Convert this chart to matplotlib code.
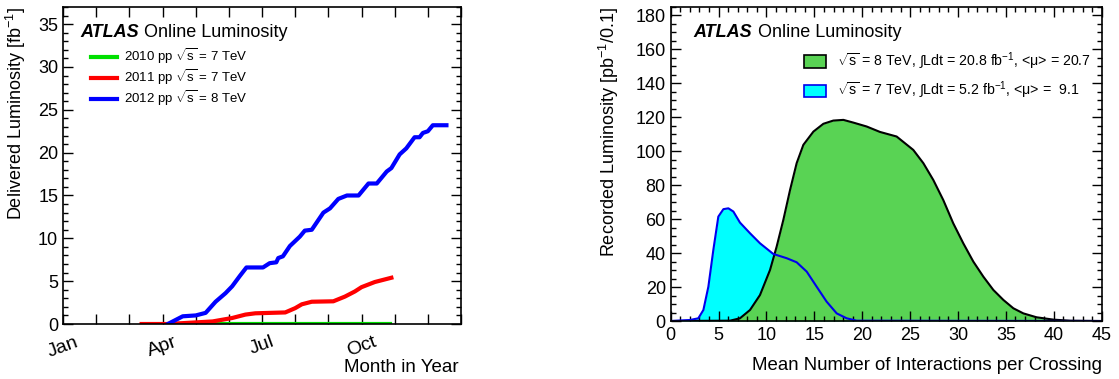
import matplotlib
matplotlib.use("Agg")
import matplotlib.pyplot as plt
from matplotlib.ticker import MultipleLocator, FixedLocator
from matplotlib.patches import Patch

plt.rcParams['font.family'] = ['Liberation Sans', 'DejaVu Sans']
plt.rcParams['mathtext.fontset'] = 'custom'
plt.rcParams['mathtext.rm'] = 'Liberation Sans'
plt.rcParams['mathtext.it'] = 'Liberation Sans:italic'

# ---- left panel: delivered luminosity vs month (months since Jan 1) ----
month_names = ["Jan", "Apr", "Jul", "Oct"]
month_pos = [0, 3, 6, 9]

m2010 = [3.53, 9.87]
l2010 = [0.04, 0.04]

m2011 = [2.37, 3.12, 3.61, 4.51, 5.1, 5.5, 5.8, 6.7, 7.0, 7.2, 7.5, 8.15,
         8.5, 8.8, 9.0, 9.4, 9.9]
l2011 = [0.0, 0.0, 0.1, 0.3, 0.7, 1.1, 1.25, 1.35, 1.85, 2.3, 2.6, 2.65,
         3.2, 3.8, 4.3, 4.9, 5.4]

m2012 = [3.16, 3.41, 3.61, 4.0, 4.3, 4.6, 4.9, 5.1, 5.33, 5.53, 6.03, 6.23,
         6.43, 6.49, 6.63, 6.84, 7.14, 7.29, 7.5, 7.85, 8.05, 8.3, 8.56,
         8.91, 9.06, 9.21, 9.46, 9.76, 9.9, 10.15, 10.35, 10.6, 10.75,
         10.85, 11.0, 11.15, 11.56]
l2012 = [0.0, 0.5, 0.9, 1.0, 1.3, 2.6, 3.6, 4.4, 5.6, 6.6, 6.6, 7.1,
         7.2, 7.7, 7.9, 9.1, 10.2, 10.9, 11.0, 13.0, 13.5, 14.6, 15.0,
         15.0, 15.7, 16.4, 16.4, 17.8, 18.2, 19.8, 20.5, 21.8, 21.8,
         22.3, 22.5, 23.2, 23.2]

# ---- right panel: recorded luminosity vs pile-up ----
mu8 = [0, 6.19, 7.23, 8.28, 9.32, 10.37, 11.06, 11.76, 12.46, 13.15, 13.85,
       14.9, 15.94, 16.98, 18.03, 19.07, 20.46, 21.85, 23.59, 25.33, 26.38,
       27.42, 28.46, 29.5, 30.55, 31.6, 32.65, 33.69, 34.74, 35.78, 36.82,
       38.2, 39.98, 41.7, 45]
lum8 = [0, 0.2, 1.6, 6.5, 15.3, 30.1, 43.8, 59.6, 77.2, 93, 103.8,
        111.6, 116.2, 118.1, 118.5, 116.9, 114.6, 111.4, 108.7, 100.8, 93,
        83.1, 71.3, 57.6, 45.8, 35, 26.1, 18.3, 12.4, 7.5, 4.5,
        2.2, 0.8, 0.2, 0]

mu7 = [0, 2.01, 2.88, 3.41, 3.93, 4.45, 4.97, 5.5, 6.02, 6.54, 7.23, 8.28,
       9.32, 10.71, 12.11, 13.15, 14.2, 15.24, 16.28, 17.33, 18.37, 19.41, 45]
lum7 = [0, 0.6, 1.6, 6.5, 20.2, 41.9, 61.5, 65.9, 66.4, 64.5, 58, 51.7,
        45.8, 39.5, 37, 34.6, 29.1, 20.2, 11.4, 4.5, 1.6, 0.2, 0]

legend8 = r"$\sqrt{\mathrm{s}}$ = 8 TeV, $\int$Ldt = 20.8 fb$^{-1}$, <μ> = 20.7"
legend7 = r"$\sqrt{\mathrm{s}}$ = 7 TeV, $\int$Ldt = 5.2 fb$^{-1}$, <μ> =  9.1"

fig = plt.figure(figsize=(11.19, 3.79), dpi=100)
ax1 = fig.add_axes([0.0563, 0.1451, 0.3557, 0.8364])
ax2 = fig.add_axes([0.5994, 0.153, 0.3851, 0.8285])


def root_style(ax):
    ax.tick_params(which='both', direction='in', top=True, right=True,
                   labelsize=13, width=1)
    ax.tick_params(which='major', length=7)
    ax.tick_params(which='minor', length=3.5)
    for s in ax.spines.values():
        s.set_linewidth(1.2)


# left
ax1.plot(m2010, l2010, color='#00e000', lw=3, label=r"2010 pp $\sqrt{\mathrm{s}}$ = 7 TeV")
ax1.plot(m2011, l2011, color='#ff0000', lw=3, label=r"2011 pp $\sqrt{\mathrm{s}}$ = 7 TeV")
ax1.plot(m2012, l2012, color='#0000ff', lw=3, label=r"2012 pp $\sqrt{\mathrm{s}}$ = 8 TeV")
ax1.set_xlim(0, 12)
ax1.set_ylim(0, 37)
root_style(ax1)
ax1.xaxis.set_major_locator(FixedLocator(month_pos))
ax1.set_xticklabels(month_names, rotation=20, fontsize=14)
ax1.xaxis.set_minor_locator(MultipleLocator(1))
ax1.tick_params(axis='x', which='both', length=7, pad=7)
ax1.yaxis.set_major_locator(MultipleLocator(5))
ax1.yaxis.set_minor_locator(MultipleLocator(1))
ax1.set_ylabel(r"Delivered Luminosity [fb$^{-1}$]", fontsize=13, loc='top')
ax1.yaxis.set_label_coords(-0.088, 1.0)
ax1.set_xlabel("Month in Year", fontsize=13.5, loc='right')
ax1.xaxis.set_label_coords(0.995, -0.11)
ax1.text(0.043, 0.92, "ATLAS", transform=ax1.transAxes, fontsize=13,
         fontweight='bold', style='italic', va='center')
ax1.text(0.204, 0.92, "Online Luminosity", transform=ax1.transAxes,
         fontsize=13, va='center')
ax1.legend(loc='upper left', bbox_to_anchor=(0.07, 0.875), frameon=False,
           fontsize=9.5, handlelength=2.0, handletextpad=0.5,
           labelspacing=0.08, borderpad=0, borderaxespad=0)

# right
ax2.fill_between(mu7, lum7, color='#00ffff', lw=0)
ax2.fill_between(mu8, lum8, color='#59d354', lw=0)
ax2.plot(mu8, lum8, color='black', lw=1.5)
ax2.plot(mu7, lum7, color='#0000ee', lw=1.5)
ax2.set_xlim(0, 45)
ax2.set_ylim(0, 185)
root_style(ax2)
ax2.xaxis.set_major_locator(MultipleLocator(5))
ax2.xaxis.set_minor_locator(MultipleLocator(1))
ax2.yaxis.set_major_locator(MultipleLocator(20))
ax2.yaxis.set_minor_locator(MultipleLocator(5))
ax2.tick_params(axis='x', pad=4)
ax2.set_ylabel(r"Recorded Luminosity [pb$^{-1}$/0.1]", fontsize=13, loc='top')
ax2.yaxis.set_label_coords(-0.115, 1.0)
ax2.set_xlabel("Mean Number of Interactions per Crossing", fontsize=13.4, loc='right')
ax2.xaxis.set_label_coords(1.0, -0.115)
ax2.text(0.052, 0.92, "ATLAS", transform=ax2.transAxes, fontsize=13,
         fontweight='bold', style='italic', va='center')
ax2.text(0.202, 0.92, "Online Luminosity", transform=ax2.transAxes,
         fontsize=13, va='center')
handles = [Patch(facecolor='#59d354', edgecolor='black', lw=1.2),
           Patch(facecolor='#00ffff', edgecolor='#0000ee', lw=1.2)]
ax2.legend(handles, [legend8, legend7], loc='upper right',
           bbox_to_anchor=(0.975, 0.86), frameon=False, fontsize=10.2,
           handlelength=1.5, handleheight=1.0, handletextpad=0.8,
           labelspacing=0.55, borderpad=0, borderaxespad=0)

fig.savefig("out.png", dpi=100)
